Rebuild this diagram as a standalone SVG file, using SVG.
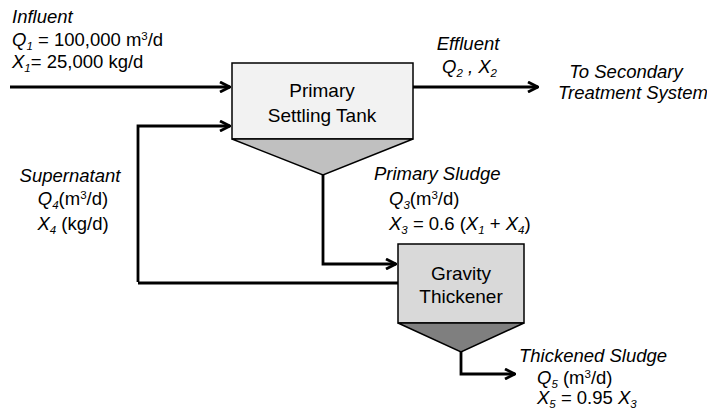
<svg xmlns="http://www.w3.org/2000/svg" width="707" height="414" viewBox="0 0 707 414">
<style>
text{font-family:"Liberation Sans",Arial,sans-serif;fill:#000}
.lbl{font-size:18.5px}
.box{font-size:19px;text-anchor:middle}
.it{font-style:italic}
.sub{font-size:11.5px}
.con{fill:none;stroke:#000;stroke-width:2.8;stroke-linejoin:miter}
.node{stroke:#000;stroke-width:1.5}
</style>
<defs>
<marker id="arr" viewBox="0 0 12 12" refX="11" refY="6" markerWidth="12" markerHeight="12" markerUnits="userSpaceOnUse" orient="auto">
<path d="M1,1 L11,6 L1,11" fill="none" stroke="#000" stroke-width="2.8"/>
</marker>
</defs>
<g id="connectors">
<path class="con" d="M10,87 H230" marker-end="url(#arr)"/>
<path class="con" d="M138,282 V126 H230" marker-end="url(#arr)"/>
<path class="con" d="M138,283 H398"/>
<path class="con" d="M413,87 H538" marker-end="url(#arr)"/>
<path class="con" d="M323,175 V264 H396" marker-end="url(#arr)"/>
<path class="con" d="M461,352 V374 H515" marker-end="url(#arr)"/>
</g>
<g id="primary-settling-tank">
<rect class="node" x="232" y="63" width="181" height="76" fill="#f2f2f2"/>
<polygon class="node" points="232,139 413,139 323,175" fill="#c0c0c0"/>
<text class="box" x="322" y="97">Primary</text>
<text class="box" x="322" y="122">Settling Tank</text>
</g>
<g id="gravity-thickener">
<rect class="node" x="398" y="244" width="126" height="79" fill="#d9d9d9"/>
<polygon class="node" points="398,323 524,323 461,352" fill="#7f7f7f"/>
<text class="box" x="461" y="280">Gravity</text>
<text class="box" x="461" y="303">Thickener</text>
</g>
<g id="influent-label" class="lbl">
<text x="12" y="23" class="it">Influent</text>
<text x="12" y="46"><tspan class="it">Q</tspan><tspan class="it sub" dy="4">1</tspan><tspan dy="-4"> = 100,000 m</tspan><tspan class="sub" dy="-6">3</tspan><tspan dy="6">/d</tspan></text>
<text x="12" y="68"><tspan class="it">X</tspan><tspan class="it sub" dy="4">1</tspan><tspan dy="-4">= 25,000 kg/d</tspan></text>
</g>
<g id="effluent-label" class="lbl">
<text x="468" y="50" class="it" text-anchor="middle">Effluent</text>
<text x="442" y="73" class="it"><tspan>Q</tspan><tspan class="sub" dy="4">2</tspan><tspan dy="-4"> , X</tspan><tspan class="sub" dy="4">2</tspan></text>
</g>
<g id="secondary-label" class="lbl it">
<text x="626" y="78" text-anchor="middle">To Secondary</text>
<text x="633" y="99" text-anchor="middle">Treatment System</text>
</g>
<g id="supernatant-label" class="lbl">
<text x="70" y="182" class="it" text-anchor="middle">Supernatant</text>
<text x="73" y="205" text-anchor="middle"><tspan class="it">Q</tspan><tspan class="it sub" dy="4">4</tspan><tspan dy="-4">(m</tspan><tspan class="sub" dy="-6">3</tspan><tspan dy="6">/d)</tspan></text>
<text x="73" y="230" text-anchor="middle"><tspan class="it">X</tspan><tspan class="it sub" dy="4">4</tspan><tspan dy="-4"> (kg/d)</tspan></text>
</g>
<g id="primary-sludge-label" class="lbl">
<text x="374" y="180" class="it">Primary Sludge</text>
<text x="389" y="205"><tspan class="it">Q</tspan><tspan class="it sub" dy="4">3</tspan><tspan dy="-4">(m</tspan><tspan class="sub" dy="-6">3</tspan><tspan dy="6">/d)</tspan></text>
<text x="389" y="230"><tspan class="it">X</tspan><tspan class="it sub" dy="4">3</tspan><tspan dy="-4"> = 0.6 (</tspan><tspan class="it">X</tspan><tspan class="it sub" dy="4">1</tspan><tspan dy="-4"> + </tspan><tspan class="it">X</tspan><tspan class="it sub" dy="4">4</tspan><tspan dy="-4">)</tspan></text>
</g>
<g id="thickened-sludge-label" class="lbl">
<text x="519" y="362" class="it">Thickened Sludge</text>
<text x="537" y="384"><tspan class="it">Q</tspan><tspan class="it sub" dy="4">5</tspan><tspan dy="-4"> (m</tspan><tspan class="sub" dy="-6">3</tspan><tspan dy="6">/d)</tspan></text>
<text x="537" y="404"><tspan class="it">X</tspan><tspan class="it sub" dy="4">5</tspan><tspan dy="-4"> = 0.95 </tspan><tspan class="it">X</tspan><tspan class="it sub" dy="4">3</tspan></text>
</g>
</svg>
